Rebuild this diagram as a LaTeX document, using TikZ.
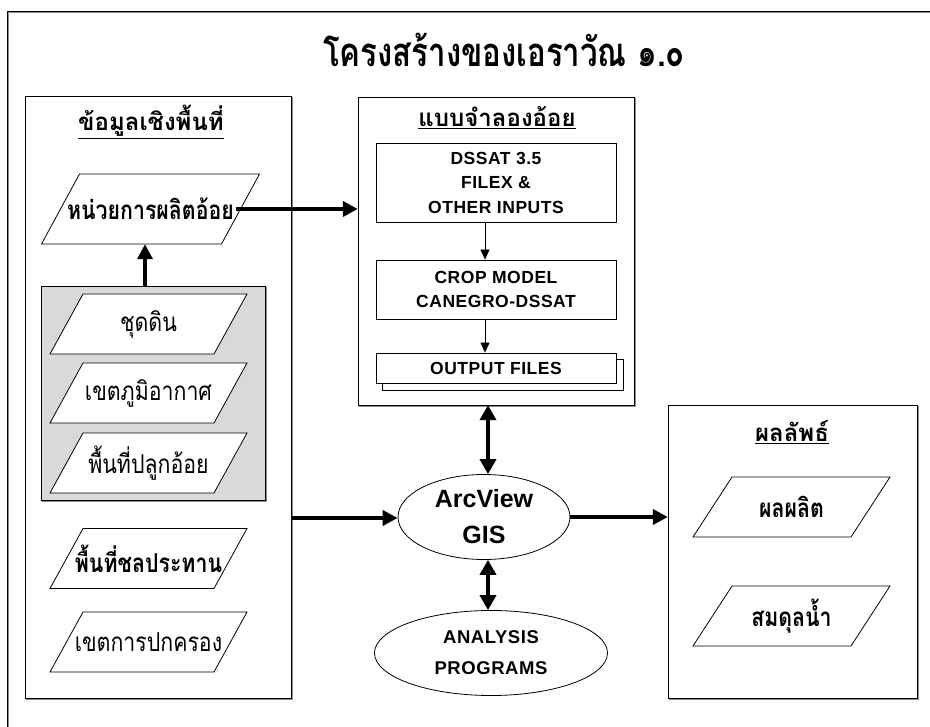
\documentclass[tikz,border=0pt]{standalone}
\usepackage{fontspec}
\setmainfont{Liberation Sans}
\newfontfamily\thai[Script=Thai,FakeStretch=0.82]{Loma}
\newfontfamily\thaiw[Script=Thai]{Loma}
\newfontfamily\thaititle[Script=Thai,FakeStretch=0.78]{Loma}
\newfontfamily\engsp[LetterSpace=3]{Liberation Sans}
\usetikzlibrary{arrows.meta,shapes.geometric,calc}
\tikzset{
  frame/.style={draw=black,line width=0.9pt,preaction={draw=black!45,line width=0.9pt,transform canvas={shift={(1.2pt,-1.2pt)}}}},
  inbox/.style={draw=black,line width=0.8pt,fill=white},
  paraline/.style={draw=black,line width=0.8pt,fill=white},
  paratext/.style={inner sep=0pt,font=\thai\fontsize{26}{30}\selectfont},
  sectitle/.style={inner sep=0pt,font=\thaiw\bfseries\fontsize{24}{28}\selectfont},
  engtext/.style={align=center,inner sep=0pt,font=\engsp\bfseries\fontsize{17.5}{24.5}\selectfont},
  bigarrow/.style={line width=4pt,-{Triangle[length=15pt,width=15pt]}},
  dblarrow/.style={line width=4pt,{Triangle[length=15pt,width=16pt]}-{Triangle[length=15pt,width=16pt]}},
  thinarrow/.style={line width=0.8pt,-{Triangle[length=10pt,width=9pt]}},
  ell/.style={draw=black,line width=0.8pt,ellipse,fill=white,inner sep=0pt}
}
% name, cx, cy, top width, slant, height, text
\newcommand\paranode[7]{%
  \draw[paraline] ({#2-(#4+#5)/2},{#3+#6/2}) -- ({#2-(#4+#5)/2+#5},{#3-#6/2}) -- ({#2+(#4+#5)/2},{#3-#6/2}) -- ({#2+(#4+#5)/2-#5},{#3+#6/2}) -- cycle;
  \node[paratext,minimum width=#4pt,minimum height=#6pt] (#1) at (#2,#3) {#7};
}
\begin{document}
\begin{tikzpicture}[x=1pt,y=-1pt]
\useasboundingbox (0,0) rectangle (930,727);
\fill[white] (0,0) rectangle (930,727);
% outer frame
\draw[frame] (7,727) -- (7,11) -- (930,11);
% title
\node[inner sep=0pt,font=\thaititle\bfseries\fontsize{40}{44}\selectfont] (title) at (504,50) {โครงสร้างของเอราวัณ ๑.๐};

% left box
\draw[frame,fill=white] (25,96) rectangle (291,698);
\node[draw=none,minimum width=266pt,minimum height=602pt,inner sep=0pt] (leftbox) at (158,397) {};
\node[sectitle] (lt) at (151,122) {\underline{ข้อมูลเชิงพื้นที่}};
\paranode{unit}{150.5}{209}{180}{38}{70}{\bfseries หน่วยการผลิตอ้อย}
\draw[frame,fill=black!15] (41,286) rectangle (265,500);
\node[minimum width=224pt,minimum height=214pt,inner sep=0pt] (gray) at (153,393) {};
\paranode{soil}{148.5}{324}{164}{33}{60}{ชุดดิน}
\paranode{climate}{148.5}{393}{164}{33}{60}{เขตภูมิอากาศ}
\paranode{cane}{148.5}{463}{164}{33}{60}{พื้นที่ปลูกอ้อย}
\paranode{irr}{148.5}{558.5}{164}{33}{60}{\bfseries พื้นที่ชลประทาน}
\paranode{admin}{148.5}{642}{164}{33}{60}{เขตการปกครอง}

% middle box
\draw[frame,fill=white] (358,97) rectangle (634,405);
\node[minimum width=276pt,minimum height=308pt,inner sep=0pt] (midbox) at (496,251) {};
\node[sectitle] (mt) at (497,118) {\underline{แบบจำลองอ้อย}};
\node[inbox,engtext,minimum width=240pt,minimum height=79pt] (dssat) at (496,182.5) {DSSAT 3.5\\FILEX \&\\OTHER INPUTS};
\node[inbox,engtext,minimum width=240pt,minimum height=59pt] (crop) at (496,289.5) {CROP MODEL\\CANEGRO-DSSAT};
\draw[inbox] (382,359) rectangle (623,390);
\node[inbox,engtext,minimum width=240pt,minimum height=30pt] (out) at (496,368) {OUTPUT FILES};
\draw[thinarrow] (dssat.south -| 485,0) -- (crop.north -| 485,0);
\draw[thinarrow] (crop.south -| 485,0) -- (out.north -| 485,0);

% ellipses
\node[ell,minimum width=172pt,minimum height=85pt,align=center,font=\bfseries\fontsize{25}{36}\selectfont] (gis) at (484,517) {ArcView\\GIS};
\node[ell,minimum width=233pt,minimum height=85pt,align=center,font=\engsp\bfseries\fontsize{18.5}{31}\selectfont] (ana) at (491,653) {ANALYSIS\\PROGRAMS};

% right box
\draw[frame,fill=white] (668,405) rectangle (917,698);
\node[minimum width=249pt,minimum height=293pt,inner sep=0pt] (rightbox) at (792.5,551.5) {};
\node[sectitle] (rt) at (792,432) {\underline{ผลลัพธ์}};
\paranode{yield}{791.5}{507}{158}{39}{60}{\bfseries ผลผลิต}
\paranode{water}{791.5}{616}{158}{39}{60}{\bfseries สมดุลน้ำ}

% connectors
\draw[bigarrow] ([xshift=-5pt]unit.east) -- (midbox.west |- unit.east);
\draw[bigarrow] (gray.north -| 145,0) -- (unit.south -| 145,0);
\draw[bigarrow] (leftbox.east |- 0,518) -- (gis.west |- 0,518);
\draw[bigarrow] (gis.east) -- (rightbox.west |- gis.east);
\draw[dblarrow] (midbox.south -| 488,0) -- (gis.north -| 488,0);
\draw[dblarrow] (gis.south -| 488,0) -- (ana.north -| 488,0);
\end{tikzpicture}
\end{document}
